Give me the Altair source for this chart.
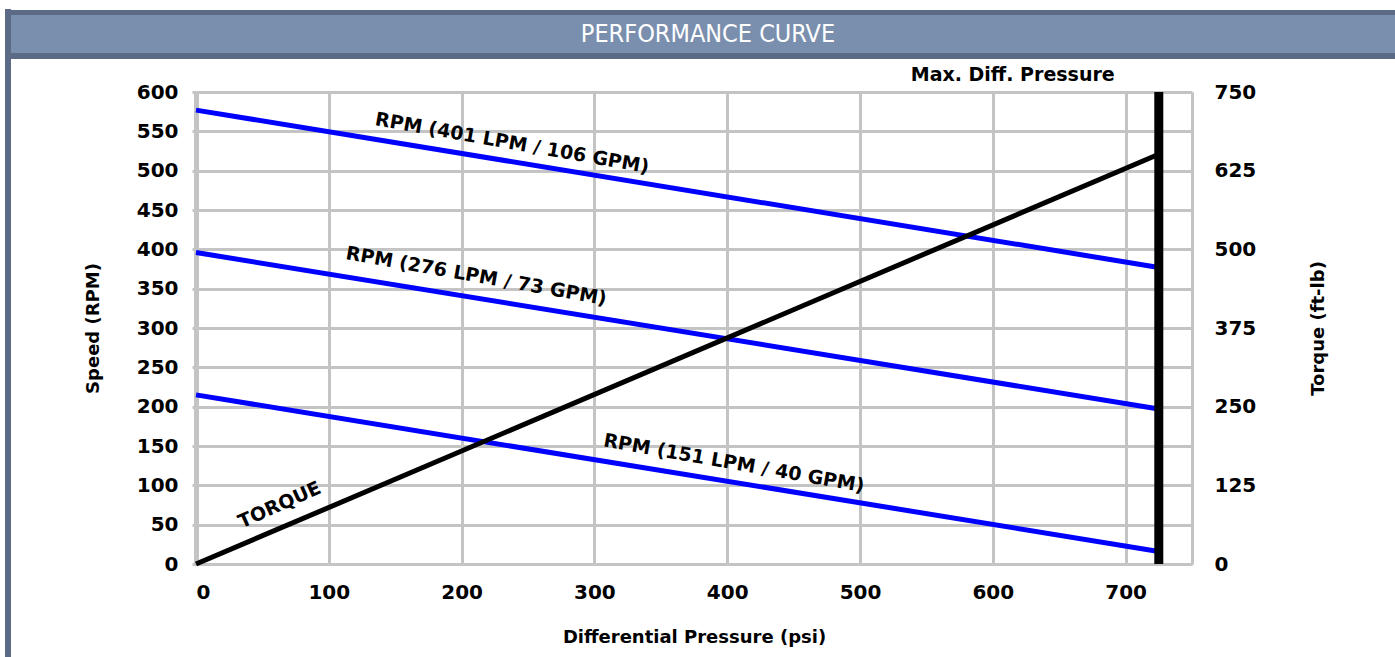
import altair as alt
import pandas as pd

# ---- data ----
psi_points = [0, 725]
rpm_401 = [577, 377]
rpm_276 = [396, 197]
rpm_151 = [215, 16]
torque_vals = [0, 651]
max_diff_psi = [725]

series_names = ["RPM (401 LPM / 106 GPM)", "RPM (276 LPM / 73 GPM)", "RPM (151 LPM / 40 GPM)"]

label_text = ["RPM (401 LPM / 106 GPM)", "RPM (276 LPM / 73 GPM)", "RPM (151 LPM / 40 GPM)", "TORQUE", "Max. Diff. Pressure"]
label_psi = [238, 211, 405, 63, 615]
label_rpm = [535, 366, 128, 75, 622]
label_angle = [10, 10, 10, 336, 0]

x_ticks = [0, 100, 200, 300, 400, 500, 600, 700, 750]
rpm_ticks = list(range(0, 601, 50))
torque_ticks = [0, 125, 250, 375, 500, 625, 750]

# ---- tables ----
rows = []
for name, vals in zip(series_names, [rpm_401, rpm_276, rpm_151]):
    for p, v in zip(psi_points, vals):
        rows.append({"psi": p, "rpm": v, "series": name})
rpm_df = pd.DataFrame(rows)
torque_df = pd.DataFrame({"psi": psi_points, "torque": torque_vals})
max_df = pd.DataFrame({"psi": max_diff_psi})
label_df = pd.DataFrame({"text": label_text, "psi": label_psi, "rpm": label_rpm, "angle": label_angle})
one = pd.DataFrame({"a": [0]})

W, H = 996, 472
FONT = "DejaVu Sans"
GRID = "#c4c4c4"
TICK_FS = 20
TITLE_FS = 18

x_enc = alt.X(
    "psi:Q",
    scale=alt.Scale(domain=[0, 750], nice=False),
    axis=alt.Axis(
        values=x_ticks,
        labelExpr="datum.value == 750 ? '' : datum.label",
        title="Differential Pressure (psi)",
        grid=True, gridColor=GRID, gridWidth=3,
        domainColor=GRID, domainWidth=3,
        ticks=False, labelPadding=18, titlePadding=26,
        labelFont=FONT, labelFontWeight="bold", labelFontSize=TICK_FS, labelColor="black",
        titleFont=FONT, titleFontWeight="bold", titleFontSize=TITLE_FS, titleColor="black",
        format="d",
    ),
)
y_enc = alt.Y(
    "rpm:Q",
    scale=alt.Scale(domain=[0, 600], nice=False),
    axis=alt.Axis(
        values=rpm_ticks,
        title="Speed  (RPM)",
        grid=True, gridColor=GRID, gridWidth=3,
        domainColor=GRID, domainWidth=5,
        ticks=True, tickSize=4, tickColor=GRID, tickWidth=3,
        labelPadding=14, titlePadding=34,
        labelFont=FONT, labelFontWeight="bold", labelFontSize=TICK_FS, labelColor="black",
        titleFont=FONT, titleFontWeight="bold", titleFontSize=TITLE_FS, titleColor="black",
        format="d",
    ),
)

header_dark = alt.Chart(one).mark_rect(color="#5b6b86").encode(
    x=alt.value(-185), x2=alt.value(1199), y=alt.value(-82), y2=alt.value(-33)
)
header_light = alt.Chart(one).mark_rect(color="#7a8fae").encode(
    x=alt.value(-185), x2=alt.value(1199), y=alt.value(-77), y2=alt.value(-39)
)
frame_left = alt.Chart(one).mark_rect(color="#5b6b86").encode(
    x=alt.value(-191), x2=alt.value(-185), y=alt.value(-83), y2=alt.value(565)
)
header_text = alt.Chart(one).mark_text(
    text="PERFORMANCE CURVE", color="white", fontSize=25,
    font="Liberation Sans Narrow, DejaVu Sans Condensed, Arial Narrow, Liberation Sans",
    align="center", baseline="middle"
).encode(x=alt.value(512), y=alt.value(-58))

rpm_lines = alt.Chart(rpm_df).mark_line(color="#0000ff", strokeWidth=5).encode(
    x=x_enc, y=y_enc, detail="series:N"
)
max_rule = alt.Chart(max_df).mark_rule(color="black", strokeWidth=9).encode(x=x_enc)
labels = alt.Chart(label_df).mark_text(
    font=FONT, fontWeight="bold", fontSize=19, color="black", align="center", baseline="middle"
).encode(
    x=x_enc, y=y_enc, text="text:N", angle=alt.Angle("angle:Q", scale=None)
)

rpm_layer = alt.layer(header_dark, header_light, frame_left, header_text, rpm_lines, labels)

torque_line = alt.Chart(torque_df).mark_line(color="black", strokeWidth=5).encode(
    x=x_enc,
    y=alt.Y(
        "torque:Q",
        scale=alt.Scale(domain=[0, 750], nice=False),
        axis=alt.Axis(
            orient="right", values=torque_ticks, title="Torque (ft-lb)",
            grid=False, domain=False, ticks=False,
            labelPadding=22, titlePadding=72, titleAngle=270,
            labelFont=FONT, labelFontWeight="bold", labelFontSize=TICK_FS, labelColor="black",
            titleFont=FONT, titleFontWeight="bold", titleFontSize=TITLE_FS, titleColor="black",
            format="d",
        ),
    ),
)

chart = alt.layer(rpm_layer, torque_line, max_rule).resolve_scale(y="independent").properties(
    width=W, height=H,
    autosize=alt.AutoSizeParams(type="none"),
    padding={"left": 196, "top": 92, "right": 203, "bottom": 93},
    background="white",
).configure_view(stroke=None)

chart.save("out.html", embed_options={"renderer": "svg", "actions": False})
